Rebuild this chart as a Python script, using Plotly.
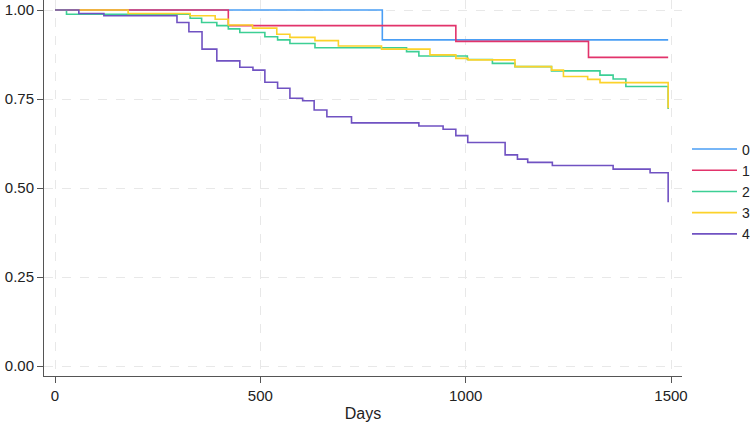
import plotly.graph_objects as go

# Kaplan-Meier style step curves: event times (days) and survival after each step
groups = ["0", "1", "2", "3", "4"]
colors = ["#4a9ef5", "#e2336b", "#3ccf95", "#fcd22a", "#7052c2"]

t0 = [0, 797, 1493]
s0 = [1.0, 0.916, 0.916]

t1 = [0, 422, 976, 1299, 1493]
s1 = [1.0, 0.956, 0.912, 0.867, 0.867]

t2 = [0, 28, 329, 357, 394, 422, 450, 511, 542, 572, 633, 856, 886, 1004,
      1065, 1120, 1209, 1327, 1359, 1390, 1493]
s2 = [1.0, 0.988, 0.977, 0.965, 0.956, 0.947, 0.937, 0.925, 0.916, 0.906,
      0.894, 0.883, 0.871, 0.861, 0.850, 0.841, 0.829, 0.817, 0.806, 0.785, 0.722]

t3 = [0, 178, 329, 390, 422, 481, 540, 572, 633, 690, 795, 913, 976, 1006,
      1120, 1209, 1238, 1297, 1327, 1493]
s3 = [1.0, 0.990, 0.984, 0.974, 0.958, 0.949, 0.932, 0.923, 0.914, 0.899,
      0.890, 0.874, 0.864, 0.860, 0.841, 0.831, 0.813, 0.805, 0.796, 0.724]

t4 = [0, 58, 119, 297, 326, 358, 394, 450, 482, 511, 542, 572, 603, 631, 662,
      722, 886, 945, 976, 1005, 1096, 1126, 1151, 1211, 1359, 1449, 1493]
s4 = [1.0, 0.990, 0.984, 0.965, 0.939, 0.890, 0.857, 0.839, 0.831, 0.797,
      0.780, 0.752, 0.745, 0.719, 0.700, 0.683, 0.674, 0.665, 0.647, 0.628,
      0.593, 0.581, 0.572, 0.563, 0.553, 0.543, 0.460]

x_ticks = [0, 500, 1000, 1500]
y_ticks = [0.0, 0.25, 0.5, 0.75, 1.0]
x_title = "Days"

series = [(t0, s0), (t1, s1), (t2, s2), (t3, s3), (t4, s4)]

fig = go.Figure()
for name, color, (t, s) in zip(groups, colors, series):
    fig.add_trace(go.Scatter(
        x=t, y=s, mode="lines", name=name,
        line=dict(color=color, width=1.6, shape="hv"),
    ))

font = "Liberation Sans, Arial, Helvetica, sans-serif"
fig.update_layout(
    width=750, height=425,
    margin=dict(l=44, r=68, t=0, b=49, autoexpand=False),
    paper_bgcolor="white", plot_bgcolor="white",
    font=dict(family=font, size=13, color="#222222"),
    legend=dict(xref="container", x=0.916, xanchor="left",
                yref="container", y=0.686, yanchor="top",
                font=dict(size=14), bgcolor="rgba(0,0,0,0)",
                tracegroupgap=0, itemwidth=45),
    showlegend=True,
)
fig.update_xaxes(
    range=[-26.8, 1526.7], tickvals=x_ticks, ticks="outside", ticklen=6,
    tickcolor="#555555", showline=True, linecolor="#555555", linewidth=1,
    tickfont=dict(size=15),
    showgrid=True, gridcolor="#e8e8e8", griddash="dash", gridwidth=1,
    zeroline=False, title=dict(text=x_title, standoff=4, font=dict(size=16)),
)
fig.update_yaxes(
    range=[-0.0281, 1.0281], tickvals=y_ticks, tickformat=".2f",
    ticks="outside", ticklen=6, tickcolor="#555555",
    tickfont=dict(size=15),
    showline=True, linecolor="#555555", linewidth=1,
    showgrid=True, gridcolor="#e8e8e8", griddash="dash", gridwidth=1,
    zeroline=False,
)

fig.write_html("out.html")
